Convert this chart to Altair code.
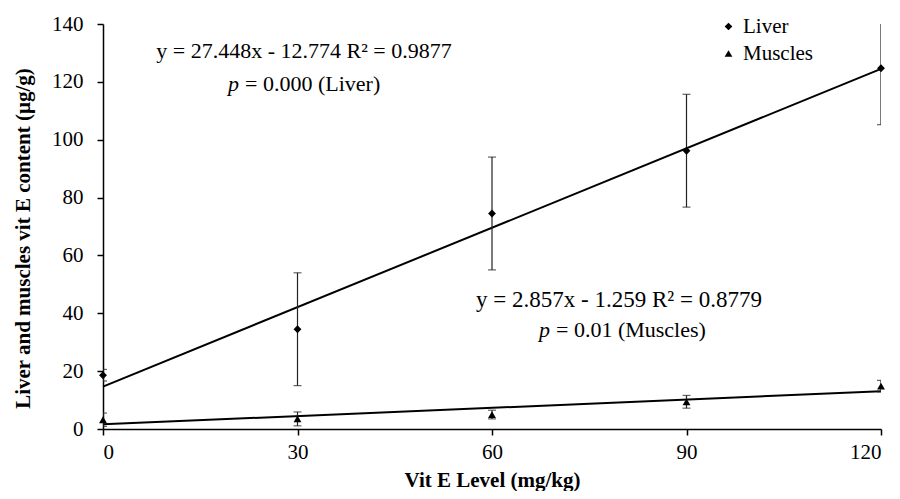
import altair as alt
import pandas as pd

# ---- data ----
levels = [0, 30, 60, 90, 120]
liver = [18.6, 34.5, 74.5, 96.2, 124.7]
liver_err = [2.0, 19.5, 19.5, 19.5, 19.5]
muscles = [3.2, 3.5, 5.0, 9.4, 14.8]
muscles_err = [2.3, 2.4, 1.5, 2.2, 2.0]
tissues = ["Liver", "Muscles"]
# linear trend lines (end points at 0 and 120 mg/kg)
fit_x = [0, 120]
liver_fit = [14.67, 124.47]
muscles_fit = [1.60, 13.03]

rows = []
for t, vals, errs in [("Liver", liver, liver_err), ("Muscles", muscles, muscles_err)]:
    for lv, v, e in zip(levels, vals, errs):
        rows.append({"level": lv, "tissue": t, "value": v, "lo": v - e, "hi": v + e})
df = pd.DataFrame(rows)

fit_rows = []
for t, vals in [("Liver", liver_fit), ("Muscles", muscles_fit)]:
    for x, v in zip(fit_x, vals):
        fit_rows.append({"level": x, "tissue": t, "value": v})
fit_df = pd.DataFrame(fit_rows)

SERIF = "Liberation Serif"
Y_TITLE = "Liver and muscles vit E content (µg/g)"
X_TITLE = "Vit E Level (mg/kg)"

x_enc = alt.X("level:Q", scale=alt.Scale(domain=[0, 120], nice=False),
              axis=alt.Axis(values=levels, title=X_TITLE, titlePadding=7))
y_enc = alt.Y("value:Q", scale=alt.Scale(domain=[0, 140], nice=False),
              axis=alt.Axis(values=[0, 20, 40, 60, 80, 100, 120, 140],
                            title=Y_TITLE, titlePadding=18, titleY=214))

fit = alt.Chart(fit_df).mark_line(color="black", strokeWidth=2).encode(
    x=x_enc, y=y_enc, detail="tissue:N")

err = alt.Chart(df).mark_errorbar(ticks=alt.MarkConfig(size=8, color="#222222"),
                                  color="#222222", clip=True, thickness=1.2).encode(
    x=alt.X("level:Q", title=X_TITLE),
    y=alt.Y("lo:Q", title=Y_TITLE), y2="hi:Q", detail="tissue:N")

pts = alt.Chart(df).mark_point(filled=True, color="black", opacity=1, size=62).encode(
    x=alt.X("level:Q", title=X_TITLE), y=alt.Y("value:Q", title=Y_TITLE),
    shape=alt.Shape("tissue:N",
                    scale=alt.Scale(domain=tissues, range=["diamond", "triangle-up"]),
                    legend=alt.Legend(title=None, orient="none", legendX=615, legendY=-8,
                                      labelFont=SERIF, labelFontSize=21, labelColor="black",
                                      symbolSize=60, symbolFillColor="black",
                                      symbolStrokeColor="black", rowPadding=5,
                                      labelOffset=4)))

dummy = pd.DataFrame({"d": [0]})

def txt(s, x, y, align="center", italic=False, size=22):
    return alt.Chart(dummy).mark_text(
        text=s, font=SERIF, fontSize=size, color="black", align=align, baseline="middle",
        fontStyle="italic" if italic else "normal").encode(x=alt.value(x), y=alt.value(y))

annot = [
    txt("y = 27.448x - 12.774 R² = 0.9877", 201, 27),
    txt("p", 125, 60, align="left", italic=True),
    txt("= 0.000 (Liver)", 142, 60, align="left"),
    txt("y = 2.857x - 1.259 R² = 0.8779", 516, 276, size=23),
    txt("p", 436, 306, align="left", italic=True),
    txt("= 0.01 (Muscles)", 453, 306, align="left"),
]

chart = alt.layer(fit, err, pts, *annot).properties(
    width=778, height=405,
    autosize=alt.AutoSizeParams(type="none"),
    padding={"left": 95, "top": 16, "right": 5, "bottom": 62},
).configure_view(stroke=None).configure_axis(
    grid=False, domainColor="black", tickColor="black", domainWidth=1.5, tickWidth=1.5,
    tickSize=6, labelFont=SERIF, labelFontSize=21, labelColor="black",
    titleFont=SERIF, titleFontSize=21, titleFontWeight="bold", titleColor="black",
).configure_axisY(labelPadding=14).configure_axisX(labelPadding=6)

chart.save("out.html", embed_options={"renderer": "svg", "actions": False})
